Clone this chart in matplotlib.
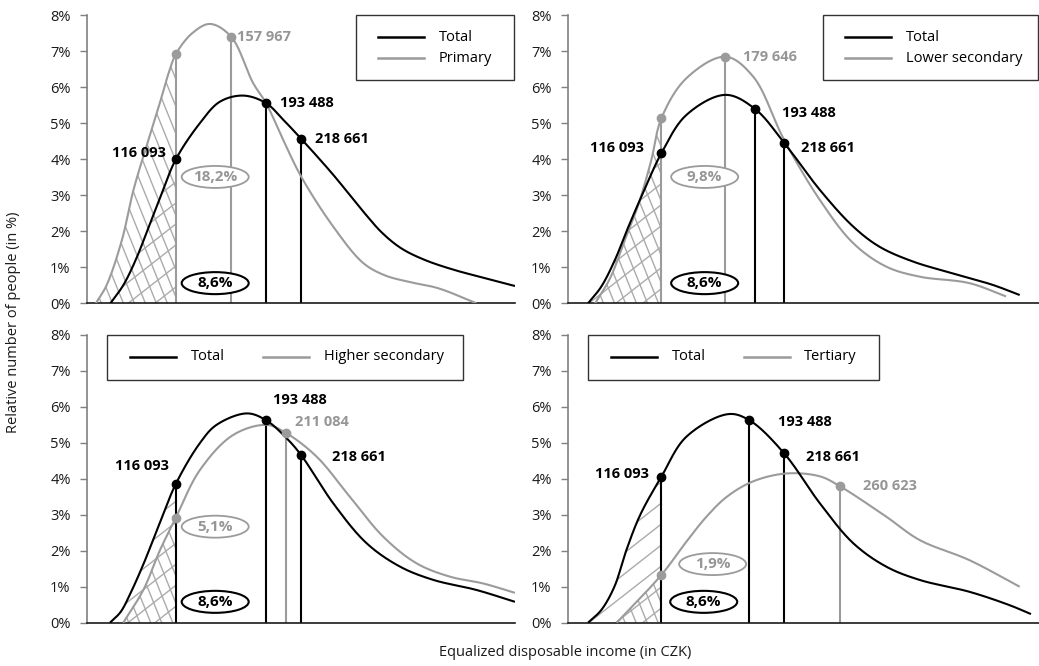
import numpy as np
import matplotlib
matplotlib.use("Agg")
import matplotlib.pyplot as plt
from matplotlib.patches import Ellipse, Rectangle, PathPatch
from matplotlib.path import Path
from matplotlib.collections import LineCollection
from matplotlib.lines import Line2D

plt.rcParams['font.family'] = ['Open Sans', 'DejaVu Sans']

# ---------------- data ----------------
groups = ["Primary", "Lower secondary", "Higher secondary", "Tertiary"]
group_median_labels = ["157 967", "179 646", "211 084", "260 623"]
group_poverty_share = ["18,2%", "9,8%", "5,1%", "1,9%"]
total_poverty_share = "8,6%"
total_labels = ["116 093", "193 488", "218 661"]

# income positions on the (unlabelled) x axis, per panel
pos_116093 = [20.7, 19.8, 20.7, 19.8]
pos_193488 = [41.8, 39.7, 41.8, 38.5]
pos_218661 = [50.0, 45.9, 50.0, 45.9]
pos_group_median = [33.6, 33.4, 46.4, 57.7]

# Total distribution curve (share of people, %) per panel
total_x = [
    [5.4, 8.4, 11.3, 14.3, 17.4, 20.7, 26.3, 31.0, 36.5, 41.8, 45.8, 50.0, 57.5, 64.5, 69.0, 73.5, 79.0, 86.0, 93.0, 100.0],
    [4.2, 7.0, 9.9, 12.7, 16.0, 19.8, 25.1, 33.4, 39.7, 45.9, 53.5, 60.6, 66.2, 73.3, 81.8, 90.3, 96.0],
    [5.3, 7.8, 10.1, 13.2, 16.3, 20.7, 26.3, 30.2, 37.3, 41.8, 46.6, 50.0, 57.5, 65.3, 73.1, 80.9, 91.0, 100.0],
    [4.2, 7.0, 9.8, 12.3, 15.3, 19.8, 25.1, 34.0, 38.5, 45.9, 53.5, 60.6, 67.6, 74.7, 85.3, 93.8, 98.4],
]
total_y = [
    [0.0, 0.5, 1.2, 2.1, 3.05, 4.0, 5.0, 5.6, 5.77, 5.56, 5.1, 4.57, 3.57, 2.55, 1.95, 1.52, 1.2, 0.92, 0.7, 0.48],
    [0.0, 0.46, 1.2, 2.1, 3.1, 4.17, 5.23, 5.79, 5.40, 4.46, 3.15, 2.13, 1.57, 1.16, 0.83, 0.51, 0.23],
    [0.0, 0.3, 0.82, 1.65, 2.58, 3.86, 4.99, 5.5, 5.82, 5.63, 5.13, 4.66, 3.32, 2.21, 1.56, 1.19, 0.91, 0.58],
    [0.0, 0.35, 1.0, 2.0, 3.0, 4.06, 5.17, 5.8, 5.63, 4.71, 3.32, 2.21, 1.56, 1.19, 0.86, 0.49, 0.24],
]

# Education-group distribution curve per panel
group_x = [
    [2.0, 4.5, 8.1, 10.8, 14.3, 16.7, 19.0, 20.7, 24.5, 28.7, 33.6, 38.8, 41.8, 45.8, 50.0, 57.5, 64.5, 69.5, 75.0, 82.0, 91.0],
    [5.7, 8.9, 12.0, 14.8, 17.6, 19.8, 25.1, 33.4, 39.3, 45.9, 53.5, 60.6, 67.6, 74.7, 85.3, 93.1],
    [8.4, 13.1, 17.0, 20.7, 26.3, 34.1, 41.9, 46.4, 53.6, 61.4, 69.2, 77.0, 84.8, 92.6, 100.0],
    [10.3, 19.8, 25.1, 29.4, 33.7, 39.3, 46.4, 53.5, 57.7, 67.6, 74.7, 85.3, 96.0],
]
group_y = [
    [0.0, 0.5, 1.76, 3.15, 4.54, 5.46, 6.39, 6.92, 7.5, 7.76, 7.41, 6.11, 5.56, 4.54, 3.52, 2.13, 1.12, 0.78, 0.6, 0.42, 0.0],
    [0.0, 0.7, 1.75, 2.7, 3.95, 5.14, 6.25, 6.85, 6.3, 4.54, 2.87, 1.67, 1.02, 0.74, 0.56, 0.19],
    [0.0, 0.91, 2.02, 2.92, 4.24, 5.22, 5.5, 5.28, 4.62, 3.5, 2.39, 1.65, 1.28, 1.09, 0.83],
    [0.0, 1.33, 2.25, 2.95, 3.5, 3.93, 4.15, 4.07, 3.8, 2.95, 2.3, 1.74, 1.0],
]

# ---------------- styling ----------------
BLACK = "#000000"
GRAY = "#9b9b9b"
GRAY_TXT = "#969696"
HATCH = "#ababab"
SPINE = "#808080"

FIG_W, FIG_H = 1039, 666
fig = plt.figure(figsize=(FIG_W / 100, FIG_H / 100), dpi=100)

# axes rectangles in pixels: (left, top(8%), right, bottom(0%))
rects_px = [
    (87.3, 15.3, 515.0, 303.3),
    (568.3, 15.3, 1038.5, 303.3),
    (87.3, 335.0, 515.0, 622.7),
    (568.3, 335.0, 1038.5, 622.7),
]

legend_boxes = [
    dict(box=(0.628, 0.775, 0.998, 1.0), rows=True, l1=(0.680, 0.788), t=0.822, y1=0.924, y2=0.850),
    dict(box=(0.542, 0.775, 0.999, 1.0), rows=True, l1=(0.589, 0.687), t=0.719, y1=0.924, y2=0.850),
    dict(box=(0.047, 0.8425, 0.879, 1.0), rows=False, l1=(0.0998, 0.2067), t1=0.2417, l2=(0.4115, 0.518), t2=0.554, y=0.9246),
    dict(box=(0.0425, 0.8425, 0.660, 1.0), rows=False, l1=(0.090, 0.188), t1=0.2196, l2=(0.374, 0.471), t2=0.501, y=0.9246),
]

# label offsets in pixels relative to markers
off_116 = [(-10, 6), (-17, 5), (-7, 18), (-12, 3)]
off_193 = [(14, 0), (27, -4), (7, 20), (29, -2)]
off_218 = [(14, 0), (17, -5), (31, -2), (22, -4)]
off_med = [(6, 0), (18, 0), (9, 11), (23, 0)]

# ellipse centres (data coords)
ell_group = [(29.9, 3.51), (29.0, 3.51), (29.9, 2.67), (30.7, 1.63)]
ell_total = [(29.9, 0.56), (29.0, 0.56), (29.9, 0.58), (28.8, 0.58)]


def smooth(x, y, sx, sy, n=40, alpha=0.5):
    """Centripetal Catmull-Rom curve through the read points (like a smoothed line)."""
    P = np.column_stack([np.asarray(x, float) * sx, np.asarray(y, float) * sy])
    P = np.vstack([2 * P[0] - P[1], P, 2 * P[-1] - P[-2]])
    out = []
    for i in range(len(P) - 3):
        p0, p1, p2, p3 = P[i:i + 4]
        t0 = 0.0
        t1 = t0 + np.linalg.norm(p1 - p0) ** alpha
        t2 = t1 + np.linalg.norm(p2 - p1) ** alpha
        t3 = t2 + np.linalg.norm(p3 - p2) ** alpha
        t = np.linspace(t1, t2, n)[:, None]
        A1 = (t1 - t) / (t1 - t0) * p0 + (t - t0) / (t1 - t0) * p1
        A2 = (t2 - t) / (t2 - t1) * p1 + (t - t1) / (t2 - t1) * p2
        A3 = (t3 - t) / (t3 - t2) * p2 + (t - t2) / (t3 - t2) * p3
        B1 = (t2 - t) / (t2 - t0) * A1 + (t - t0) / (t2 - t0) * A2
        B2 = (t3 - t) / (t3 - t1) * A2 + (t - t1) / (t3 - t1) * A3
        C = (t2 - t) / (t2 - t1) * B1 + (t - t1) / (t2 - t1) * B2
        out.append(C if i == 0 else C[1:])
    C = np.vstack(out)
    return C[:, 0] / sx, np.maximum(C[:, 1] / sy, 0)


def hatch_region(ax, xs, ys, xcut, angle_deg, spacing_px, mode, sx, sy):
    """Draw hatch lines inside the area under curve (xs, ys) left of xcut."""
    sel = xs <= xcut
    ycut = ys[sel][-1]
    px = np.concatenate([xs[sel], [xcut, xcut, xs[0]]])
    py = np.concatenate([ys[sel], [ycut, 0, 0]])
    patch = PathPatch(Path(np.column_stack([px, py])), facecolor="none", edgecolor="none")
    ax.add_patch(patch)
    x0, x1 = xs[0] - 5, xcut + 5
    segs = []
    a = np.deg2rad(angle_deg)
    if mode == "up":   # '/' lines, given vertical spacing in px
        slope = np.tan(a) * sx / sy
        step = spacing_px / sy
        for c in np.arange(-slope * x1 - 2, 10, step):
            segs.append([(x0, slope * x0 + c), (x1, slope * x1 + c)])
    else:              # '\' lines, given horizontal spacing in px
        slope = -np.tan(a) * sx / sy
        step = spacing_px / sx
        for c in np.arange(x0 - 40, x1 + 40, step):
            segs.append([(c - 40, slope * (-40)), (c + 40, slope * 40)])
    lc = LineCollection(segs, colors=HATCH, linewidths=1.0, zorder=1)
    lc.set_clip_path(patch)
    ax.add_collection(lc)


for i in range(4):
    l, t, r, b = rects_px[i]
    ax = fig.add_axes([l / FIG_W, 1 - b / FIG_H, (r - l) / FIG_W, (b - t) / FIG_H])
    ax.set_xlim(0, 100)
    ax.set_ylim(0, 8)
    sx = (r - l) / 100.0   # px per x unit
    sy = (b - t) / 8.0     # px per 1 %
    ax.set_yticks(range(0, 9))
    ax.set_yticklabels([f"{v}%" for v in range(0, 9)], fontsize=10.5, color="#1a1a1a")
    ax.set_xticks([])
    for s in ["top", "right"]:
        ax.spines[s].set_visible(False)
    ax.spines["left"].set_color(SPINE)
    ax.spines["left"].set_linewidth(1.2)
    ax.spines["bottom"].set_color("#1a1a1a")
    ax.spines["bottom"].set_linewidth(1.2)
    ax.tick_params(axis="y", direction="out", length=5, width=1.0, color=SPINE, pad=7)
    ax.patch.set_alpha(0)

    txs, tys = smooth(total_x[i], total_y[i], sx, sy)
    gxs, gys = smooth(group_x[i], group_y[i], sx, sy)

    # hatching of the areas below the 116 093 threshold
    hatch_region(ax, txs, tys, pos_116093[i], 38, 21, "up", sx, sy)
    hatch_region(ax, gxs, gys, pos_116093[i], 68, 11, "down", sx, sy)

    # curves
    ax.plot(gxs, gys, color=GRAY, lw=1.5, zorder=3, solid_capstyle="butt")
    ax.plot(txs, tys, color=BLACK, lw=1.5, zorder=4, solid_capstyle="butt")

    # values at markers (read points lie on the curves)
    t116 = np.interp(pos_116093[i], total_x[i], total_y[i])
    g116 = np.interp(pos_116093[i], group_x[i], group_y[i])
    t193 = np.interp(pos_193488[i], total_x[i], total_y[i])
    t218 = np.interp(pos_218661[i], total_x[i], total_y[i])
    gmed = np.interp(pos_group_median[i], group_x[i], group_y[i])

    # vertical drop lines
    top116 = max(t116, g116)
    ax.vlines(pos_116093[i], 0, top116, color=(GRAY if g116 > t116 else BLACK), lw=1.5, zorder=2)
    ax.vlines(pos_group_median[i], 0, gmed, color=GRAY, lw=1.5, zorder=2)
    ax.vlines([pos_193488[i], pos_218661[i]], 0, [t193, t218], color=BLACK, lw=1.5, zorder=2)

    # markers
    ax.plot([pos_116093[i], pos_group_median[i]], [g116, gmed], "o", color=GRAY, ms=6, zorder=6)
    ax.plot([pos_116093[i], pos_193488[i], pos_218661[i]], [t116, t193, t218], "o", color=BLACK, ms=6, zorder=7)

    # value labels
    kw = dict(textcoords="offset pixels", fontsize=10.5, fontweight="bold", va="center", zorder=8)
    ax.annotate(total_labels[0], (pos_116093[i], t116), xytext=off_116[i], ha="right", color=BLACK, **kw)
    ax.annotate(total_labels[1], (pos_193488[i], t193), xytext=off_193[i], ha="left", color=BLACK, **kw)
    ax.annotate(total_labels[2], (pos_218661[i], t218), xytext=off_218[i], ha="left", color=BLACK, **kw)
    ax.annotate(group_median_labels[i], (pos_group_median[i], gmed), xytext=off_med[i], ha="left", color=GRAY_TXT, **kw)

    # ellipses with poverty shares
    w_data = 67 / sx
    h_data = 22 / sy
    ax.add_patch(Ellipse(ell_group[i], w_data, h_data, facecolor="white", edgecolor=GRAY, lw=1.3, zorder=5))
    ax.text(*ell_group[i], group_poverty_share[i], ha="center", va="center", fontsize=11,
            fontweight="bold", color=GRAY_TXT, zorder=6)
    ax.add_patch(Ellipse(ell_total[i], w_data, h_data, facecolor="white", edgecolor=BLACK, lw=1.5, zorder=5))
    ax.text(*ell_total[i], total_poverty_share, ha="center", va="center", fontsize=11,
            fontweight="bold", color=BLACK, zorder=6)

    # legend box
    lb = legend_boxes[i]
    x0, y0, x1, y1 = lb["box"]
    ax.add_patch(Rectangle((x0, y0), x1 - x0, y1 - y0, transform=ax.transAxes, facecolor="white",
                           edgecolor="#333333", lw=1.0, zorder=9, clip_on=False))
    if lb["rows"]:
        ax.add_line(Line2D(lb["l1"], [lb["y1"]] * 2, transform=ax.transAxes, color=BLACK, lw=1.8, zorder=10))
        ax.add_line(Line2D(lb["l1"], [lb["y2"]] * 2, transform=ax.transAxes, color=GRAY, lw=1.8, zorder=10))
        ax.text(lb["t"], lb["y1"], "Total", transform=ax.transAxes, fontsize=10.5, va="center", zorder=10)
        ax.text(lb["t"], lb["y2"], groups[i], transform=ax.transAxes, fontsize=10.5, va="center", zorder=10)
    else:
        ax.add_line(Line2D(lb["l1"], [lb["y"]] * 2, transform=ax.transAxes, color=BLACK, lw=1.8, zorder=10))
        ax.add_line(Line2D(lb["l2"], [lb["y"]] * 2, transform=ax.transAxes, color=GRAY, lw=1.8, zorder=10))
        ax.text(lb["t1"], lb["y"], "Total", transform=ax.transAxes, fontsize=10.5, va="center", zorder=10)
        ax.text(lb["t2"], lb["y"], groups[i], transform=ax.transAxes, fontsize=10.5, va="center", zorder=10)

fig.text(14 / FIG_W, 1 - 322 / FIG_H, "Relative number of people (in %)", rotation=90,
         ha="center", va="center", fontsize=10.5, color="#1a1a1a")
fig.text(565 / FIG_W, 1 - 653 / FIG_H, "Equalized disposable income (in CZK)",
         ha="center", va="center", fontsize=10.5, color="#1a1a1a")

fig.savefig("out.png", dpi=100)
